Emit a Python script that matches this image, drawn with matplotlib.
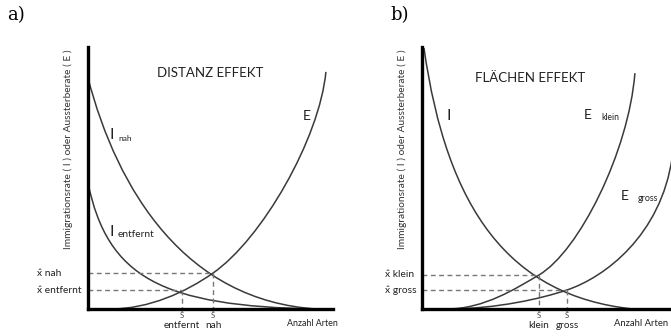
import matplotlib
matplotlib.use("Agg")
import matplotlib.pyplot as plt
from matplotlib.path import Path
from matplotlib.patches import PathPatch

plt.rcParams['font.family'] = ['Lato', 'DejaVu Sans']

# Bezier control points (start, c1, c2, end, c1, c2, end ...) in "rate vs. species" units 0..100
# panel a) distance effect
i_nah = [(0, 88.2), (12, 45), (40, 3), (93.5, 0)]
i_entfernt = [(0, 48.1), (8, 12), (30, 1), (93.5, 0)]
e_distanz = [(9, 0), (25, 0), (40, 6.5), (51, 13.7), (71, 26.7), (94.5, 65), (97.1, 90.5)]
# equilibria (S^, x^) in panel a)
eq_a = {"nah": (51, 13.7), "entfernt": (38.4, 7.25)}

# panel b) area effect
i_flaeche = [(0.8, 99.6), (10, 38), (35, 5), (84.7, 0)]
e_klein = [(10, 0), (25, 0), (38, 8), (47, 13), (63, 22), (83, 60), (85.5, 90)]
e_gross = [(10, 0), (30, 0), (48, 4), (58.2, 7.25), (73.2, 12), (96, 28), (100.5, 58)]
eq_b = {"klein": (47, 13), "gross": (58.2, 7.25)}

curve_col = '#3a3a3a'
dash_col = '#777777'
txt_col = '#222222'


def draw_curve(ax, pts):
    codes = [Path.MOVETO] + [Path.CURVE4] * (len(pts) - 1)
    ax.add_patch(PathPatch(Path(pts, codes), fill=False, edgecolor=curve_col, lw=1.1))


def setup(ax):
    ax.set_xlim(0, 100)
    ax.set_ylim(0, 100)
    ax.set_xticks([])
    ax.set_yticks([])
    for s in ['top', 'right']:
        ax.spines[s].set_visible(False)
    for s in ['left', 'bottom']:
        ax.spines[s].set_linewidth(2.4)
        ax.spines[s].set_color('black')
    ax.set_facecolor('none')


def equilibria(ax, eq, label_x):
    for name, (sx, xy) in eq.items():
        ax.plot([0, sx], [xy, xy], ls=(0, (3.5, 2.5)), color=dash_col, lw=1.0, clip_on=False)
        ax.plot([sx, sx], [xy, 0], ls=(0, (3.5, 2.5)), color=dash_col, lw=1.0, clip_on=False)
        ax.text(sx, -2.4, "Ŝ", ha='center', va='center', fontsize=5.5, color='#444444', clip_on=False)
        ax.text(sx, -6.2, name, ha='center', va='center', fontsize=7.2, color=txt_col, clip_on=False)
        ax.text(label_x, xy, "x̂ " + name, ha='left', va='center', fontsize=7.4, color=txt_col,
                clip_on=False)


fig = plt.figure(figsize=(6.71, 3.36), dpi=100)
W, H = 671, 336
ax1 = fig.add_axes([88 / W, (H - 309) / H, 245 / W, 262 / H])
ax2 = fig.add_axes([422 / W, (H - 309) / H, 249 / W, 262 / H])

for ax in (ax1, ax2):
    setup(ax)
    ax.text(-8.0, 61, "Immigrationsrate ( I ) oder Aussterberate ( E )", rotation=90,
            ha='center', va='center', fontsize=7.3, color='#333333', clip_on=False)

# panel a
for c in (i_nah, i_entfernt, e_distanz):
    draw_curve(ax1, c)
equilibria(ax1, eq_a, -20.8)
ax1.text(49.8, 90, "DISTANZ EFFEKT", ha='center', va='center', fontsize=9.5, color=txt_col)
ax1.text(89.4, 73.7, "E", ha='center', va='center', fontsize=10, color=txt_col)
ax1.text(9.8, 66.4, "I", ha='center', va='center', fontsize=11.5, color=txt_col)
ax1.text(12.6, 65.2, "nah", ha='left', va='center', fontsize=6, color=txt_col)
ax1.text(9.8, 29.4, "I", ha='center', va='center', fontsize=11.5, color=txt_col)
ax1.text(12.2, 28.6, "entfernt", ha='left', va='center', fontsize=7.3, color=txt_col)
ax1.text(81.2, -5.7, "Anzahl Arten", ha='left', va='center', fontsize=6.4, color=txt_col,
         clip_on=False)
fig.text(7 / W, 1 - 15 / H, "a)", ha='left', va='center', fontsize=13,
         family=['DejaVu Serif'])

# panel b
for c in (i_flaeche, e_klein, e_gross):
    draw_curve(ax2, c)
equilibria(ax2, eq_b, -14.9)
ax2.text(43.4, 88.2, "FLÄCHEN EFFEKT", ha='center', va='center', fontsize=9.5, color=txt_col)
ax2.text(10.8, 73.7, "I", ha='center', va='center', fontsize=11.5, color=txt_col)
ax2.text(66.7, 74, "E", ha='center', va='center', fontsize=10, color=txt_col)
ax2.text(72.2, 73.0, "klein", ha='left', va='center', fontsize=6.2, color=txt_col)
ax2.text(81.5, 43.1, "E", ha='center', va='center', fontsize=10, color=txt_col)
ax2.text(86.6, 42.0, "gross", ha='left', va='center', fontsize=6.4, color=txt_col)
ax2.text(77.1, -5.7, "Anzahl Arten", ha='left', va='center', fontsize=6.8, color=txt_col,
         clip_on=False)
fig.text(390 / W, 1 - 15 / H, "b)", ha='left', va='center', fontsize=13,
         family=['DejaVu Serif'])

plt.savefig("out.png", dpi=100)
